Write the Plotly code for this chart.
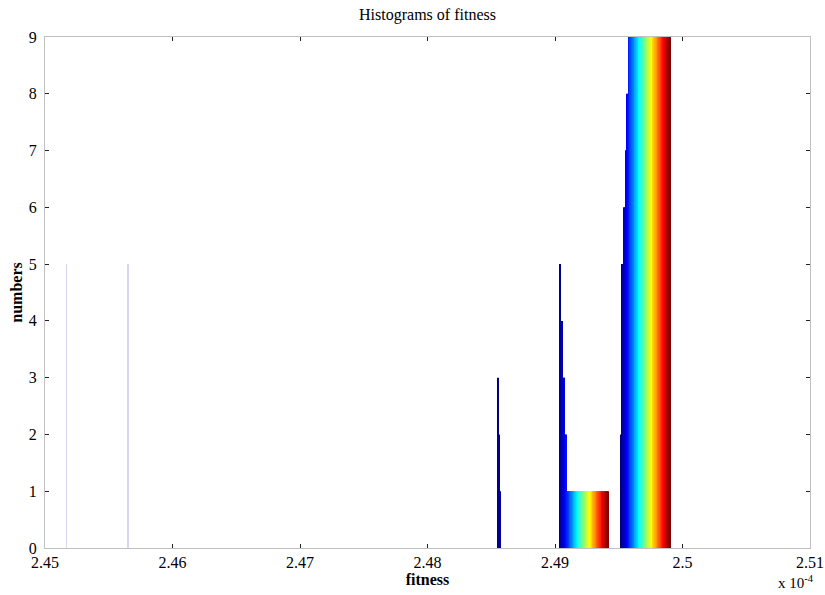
import plotly.graph_objects as go

# ---- data (x values are in units of 1e-4) ----
bin_centers = [2.45358, 2.45842, 2.46325, 2.46809, 2.47292,
               2.47776, 2.48259, 2.48743, 2.49226, 2.49710]
N_GEN = 60

# counts of column 1..k in the sparse bins (remaining columns are 0)
bin1_counts = [5]
bin2_counts = [5]
bin8_counts = [3, 2, 1]
bin9_counts = [5, 5, 4, 4, 3, 3, 3, 2, 2, 1, 1, 1, 1, 1, 1, 1, 1, 1, 1, 1,
               1, 1, 1, 1, 1, 1, 1, 1, 1, 1, 1, 1, 1, 1, 1, 1, 1, 1, 1, 1,
               1, 1, 1, 1, 1, 1, 1, 1, 1, 1, 1, 1, 1, 1, 1, 1, 1, 1, 1, 1]
bin10_counts = [2, 5, 5, 6, 6, 7, 7, 8, 8, 19, 19, 19, 19, 19, 19, 19, 19, 19, 19, 19,
                19, 19, 19, 19, 19, 19, 19, 19, 19, 19, 19, 19, 19, 19, 19, 19, 19, 19, 19, 19,
                19, 19, 19, 19, 19, 19, 19, 19, 19, 19, 19, 19, 19, 19, 19, 19, 19, 19, 19, 19]

x_tick_vals = [2.45, 2.46, 2.47, 2.48, 2.49, 2.50, 2.51]
x_tick_text = ["2.45", "2.46", "2.47", "2.48", "2.49", "2.5", "2.51"]
y_tick_vals = [0, 1, 2, 3, 4, 5, 6, 7, 8, 9]


def pad(lst):
    return lst + [0] * (N_GEN - len(lst))


bins = [pad(bin1_counts), pad(bin2_counts), pad([]), pad([]), pad([]),
        pad([]), pad([]), pad(bin8_counts), pad(bin9_counts), pad(bin10_counts)]


def jet(t):
    def c(v):
        return max(0.0, min(1.0, v))
    r = c(1.5 - abs(4 * t - 3))
    g = c(1.5 - abs(4 * t - 2))
    b = c(1.5 - abs(4 * t - 1))
    return "rgb(%d,%d,%d)" % (round(r * 255), round(g * 255), round(b * 255))


fig = go.Figure()
for k in range(N_GEN):
    col = jet(k / (N_GEN - 1))
    ys = [bins[i][k] for i in range(10)]
    colors = [col] * 10
    if k == 0:
        colors[0] = "rgb(214,214,240)"
        colors[1] = "rgb(214,214,240)"
    fig.add_trace(go.Bar(x=bin_centers, y=ys, marker=dict(color=colors, line=dict(width=0)),
                         showlegend=False, hoverinfo="skip"))

font_family = "Liberation Serif, Times New Roman, serif"

fig.update_layout(
    width=825, height=595,
    margin=dict(l=45, r=15, t=37, b=47, autoexpand=False),
    paper_bgcolor="white", plot_bgcolor="white",
    barmode="group", bargap=0.2, bargroupgap=0,
    font=dict(family=font_family, size=16, color="black"),
    title=dict(text="Histograms of fitness", x=0.5, xref="paper", xanchor="center",
               y=1 - 14 / 595, yanchor="middle", font=dict(size=16)),
    xaxis=dict(range=[2.45, 2.51], tickvals=x_tick_vals, ticktext=x_tick_text,
               automargin=False, ticklabeloverflow="allow",
               showgrid=False, zeroline=False, showline=True, linecolor="#c0c0c0", linewidth=1,
               mirror="allticks", ticks="inside", ticklen=4, tickcolor="#222", tickwidth=1,
               tickfont=dict(size=16),
               title=dict(text="<b>fitness</b>", font=dict(size=16), standoff=0)),
    yaxis=dict(range=[0, 9], tickvals=y_tick_vals, automargin=False,
               showgrid=False, zeroline=False, showline=True, linecolor="#c0c0c0", linewidth=1,
               mirror="allticks", ticks="inside", ticklen=4, tickcolor="#222", tickwidth=1,
               tickfont=dict(size=16), ticklabelstandoff=4,
               title=dict(text="<b>numbers</b>", font=dict(size=16), standoff=2)),
    annotations=[dict(text="x 10<sup>-4</sup>", xref="paper", yref="paper", x=1.0, y=-0.066,
                      xanchor="right", yanchor="middle", xshift=6, showarrow=False,
                      font=dict(size=15))],
)

fig.write_html(
    "out.html",
    config={"displayModeBar": False},
    post_script="document.body.style.margin='0';"
                "document.documentElement.style.overflow='hidden';"
                "document.body.style.overflow='hidden';",
)
